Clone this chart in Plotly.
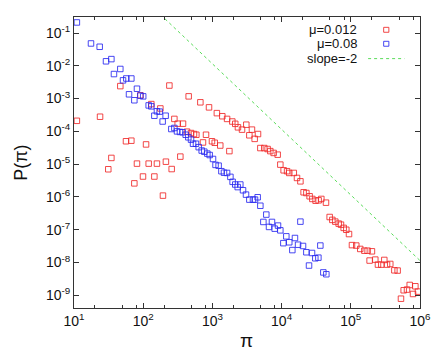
import plotly.graph_objects as go

# mu = 0.012 (red)
red_x = [11.0, 23.8, 31.3, 34.7, 46.7, 56.4, 67.4, 74.5, 81.3, 91.0, 99.3, 110, 120, 131, 145, 158, 177, 193,
         213, 239, 258, 282, 315, 344, 376, 430, 454, 491, 542, 586, 670, 731, 809, 893, 986, 1080, 1160, 1300,
         1390, 1630, 1760, 1940, 2140, 2340, 2680, 3090, 3420, 3730, 4080, 4560, 4930, 5620, 6280, 6870, 7670,
         8770, 9590, 10700, 12000, 12900, 15000, 16700, 18700, 20800, 22800, 25400, 27800, 31000, 34300, 37500,
         43800, 49500, 54100, 59700, 66800, 72100, 78900, 86100, 94200, 1.04e5, 1.20e5, 1.37e5, 1.57e5, 1.75e5,
         2.02e5, 1.87e5, 2.26e5, 2.47e5, 2.76e5, 3.05e5, 3.34e5, 3.72e5, 4.26e5, 4.75e5, 5.31e5, 5.81e5, 6.49e5,
         7.10e5, 7.93e5, 8.57e5, 9.35e5]
red_y = [2.1e-4, 2.8e-4, 7.0e-6, 1.55e-5, 2.4e-3, 5.0e-5, 5.2e-5, 2.6e-6, 1.04e-5, 1.26e-3, 4.2e-6, 4.0e-5,
         1.04e-5, 6.8e-4, 4.2e-6, 1.04e-5, 5.0e-4, 1.1e-6, 1.19e-5, 2.5e-3, 7.1e-6, 2.4e-4, 1.72e-4, 1.7e-5,
         1.72e-4, 9.8e-5, 1.17e-3, 8.9e-5, 8.3e-5, 7.9e-5, 7.7e-4, 4.6e-5, 7.9e-5, 5.4e-4, 5.0e-5, 4.5e-5, 3.6e-4,
         3.7e-5, 2.9e-4, 2.4e-4, 2.5e-5, 2.0e-4, 1.7e-4, 1.33e-4, 1.13e-4, 1.6e-4, 7.6e-5, 1.13e-4, 5.9e-5,
         8.3e-5, 3.1e-5, 3.1e-5, 2.9e-5, 2.5e-5, 2.2e-5, 1.95e-5, 9.7e-6, 6.5e-6, 6.1e-6, 5.4e-6, 5.4e-6, 3.8e-6,
         3.0e-6, 1.39e-6, 1.32e-6, 1.05e-6, 8.7e-7, 7.7e-7, 7.9e-7, 8.7e-7, 6.7e-7, 2.45e-7, 2.0e-7, 1.77e-7,
         1.54e-7, 1.43e-7, 1.14e-7, 1.0e-7, 7.4e-8, 3.4e-8, 3.3e-8, 2.6e-8, 2.3e-8, 2.3e-8, 2.2e-8, 1.15e-8,
         1.23e-8, 8.65e-9, 8.65e-9, 1.2e-8, 8.65e-9, 9.06e-9, 5.8e-9, 5.7e-9, 7.9e-10, 1.43e-9, 1.5e-9, 2.07e-9,
         1.1e-9, 1.89e-9, 1.3e-9]

# mu = 0.08 (blue)
blue_x = [11.0, 17.6, 23.5, 29.0, 34.7, 37.8, 46.7, 51.1, 57.0, 67.4, 62.4, 81.3, 74.5, 91.0, 100, 120, 131, 145,
          158, 173, 191, 211, 255, 282, 308, 340, 372, 411, 449, 491, 525, 579, 634, 700, 764, 845, 913, 1020,
          1110, 1230, 1350, 1470, 1630, 1820, 1960, 2140, 2320, 2530, 2770, 3060, 3420, 3860, 4130, 4510, 4930,
          6010, 5450, 6580, 7260, 7940, 8870, 9590, 11700, 10600, 12900, 14300, 15600, 17300, 18700, 20400,
          22800, 24900, 27500, 30700, 34000, 36300, 40100, 44300]
blue_y = [0.21, 0.048, 0.038, 0.0137, 0.016, 0.0056, 0.008, 0.0036, 0.0041, 0.0041, 0.00135, 0.002, 8.9e-4,
          1.23e-3, 1.17e-3, 6.2e-4, 5.8e-4, 3.0e-4, 4.1e-4, 4.0e-4, 2.0e-4, 3.0e-4, 1.18e-4, 1.27e-4, 1.0e-4,
          9.6e-5, 9.4e-5, 7.9e-5, 6.6e-5, 5.6e-5, 4.2e-5, 4.2e-5, 3.3e-5, 2.6e-5, 2.4e-5, 2.1e-5, 1.9e-5,
          1.44e-5, 9.5e-6, 9.0e-6, 6.1e-6, 5.5e-6, 5.4e-6, 4.1e-6, 2.9e-6, 2.4e-6, 2.0e-6, 2.4e-6, 1.6e-6,
          1.18e-6, 8.3e-7, 8.3e-7, 8.3e-7, 9.8e-7, 5.4e-7, 2.9e-7, 1.73e-7, 1.22e-7, 1.73e-7, 1.08e-7, 1.34e-7,
          9.6e-8, 6.3e-8, 3.9e-8, 4.15e-8, 2.4e-8, 5.6e-8, 3.5e-8, 1.77e-7, 3.2e-8, 2.06e-8, 8.1e-9, 1.96e-8,
          1.35e-8, 1.41e-8, 3.3e-8, 5.0e-9, 4.4e-9]

# slope = -2 reference line
slope_x = [100, 1e6]
slope_c = 1.15e4
slope_y = [slope_c * v ** -2 for v in slope_x]

x_tick_exp = [1, 2, 3, 4, 5, 6]
y_tick_exp = [-9, -8, -7, -6, -5, -4, -3, -2, -1]
legend_labels = ["μ=0.012", "μ=0.08", "slope=-2"]

RED = "rgba(240,40,40,0.85)"
BLUE = "rgba(40,40,240,0.85)"
GREEN = "rgb(90,220,90)"

fig = go.Figure()
fig.add_trace(go.Scatter(x=slope_x, y=slope_y, mode="lines",
                         line=dict(color=GREEN, width=1, dash="dot"), showlegend=False))
fig.add_trace(go.Scatter(x=red_x, y=red_y, mode="markers",
                         marker=dict(symbol="square-open", size=5.5, color=RED, line=dict(width=1, color=RED)),
                         showlegend=False))
fig.add_trace(go.Scatter(x=blue_x, y=blue_y, mode="markers",
                         marker=dict(symbol="square-open", size=5.5, color=BLUE, line=dict(width=1, color=BLUE)),
                         showlegend=False))

font = "Liberation Sans, Arial, Helvetica, sans-serif"
x_minor = [m * 10 ** e for e in range(1, 6) for m in (2, 5, 8)]

fig.update_xaxes(type="log", range=[1, 6],
                 tickmode="array", tickvals=[10 ** e for e in x_tick_exp],
                 ticktext=[f"10<sup>{e}</sup>" for e in x_tick_exp],
                 ticks="inside", ticklen=5, tickwidth=1, tickcolor="#333",
                 minor=dict(tickmode="array", tickvals=x_minor, ticks="inside", ticklen=3, tickcolor="#333"),
                 showline=True, linecolor="#333", linewidth=1, mirror="allticks",
                 showgrid=False, zeroline=False,
                 tickfont=dict(family=font, size=14, color="#111"))
fig.update_yaxes(type="log", range=[-9.386, -0.512],
                 tickmode="array", tickvals=[10.0 ** e for e in y_tick_exp],
                 ticktext=[f"10<sup>{e}</sup>" for e in y_tick_exp],
                 ticks="inside", ticklen=5, tickwidth=1, tickcolor="#333",
                 showline=True, linecolor="#333", linewidth=1, mirror="allticks",
                 showgrid=False, zeroline=False,
                 tickfont=dict(family=font, size=14, color="#111"))

annotations = [
    dict(text="π", xref="paper", yref="paper", x=0.498, y=-0.112, xanchor="center", yanchor="middle",
         showarrow=False, font=dict(family=font, size=19, color="#111")),
    dict(text="P(π)", xref="paper", yref="paper", x=-0.155, y=0.5, xanchor="center", yanchor="middle",
         textangle=-90, showarrow=False, font=dict(family=font, size=18, color="#111")),
]
leg_y = [0.956, 0.908, 0.857]
for lab, yy in zip(legend_labels, leg_y):
    annotations.append(dict(text=lab, xref="paper", yref="paper", x=0.823, y=yy, xanchor="right",
                            yanchor="middle", showarrow=False, font=dict(family=font, size=13, color="#111")))

shapes = []
for col, yy in zip([RED, BLUE], leg_y[:2]):
    shapes.append(dict(type="rect", xref="paper", yref="paper", x0=0.895, x1=0.910,
                       y0=yy - 0.0085, y1=yy + 0.0085, line=dict(color=col, width=1)))
shapes.append(dict(type="line", xref="paper", yref="paper", x0=0.850, x1=0.955, y0=leg_y[2], y1=leg_y[2],
                   line=dict(color=GREEN, width=1, dash="dot")))

# the page body adds an 8 px offset, so the figure is 8 px smaller and the margins shifted
fig.update_layout(width=435, height=345, margin=dict(l=66, r=23, t=9, b=45),
                  paper_bgcolor="white", plot_bgcolor="white",
                  annotations=annotations, shapes=shapes, showlegend=False)

fig.write_html("out.html")
